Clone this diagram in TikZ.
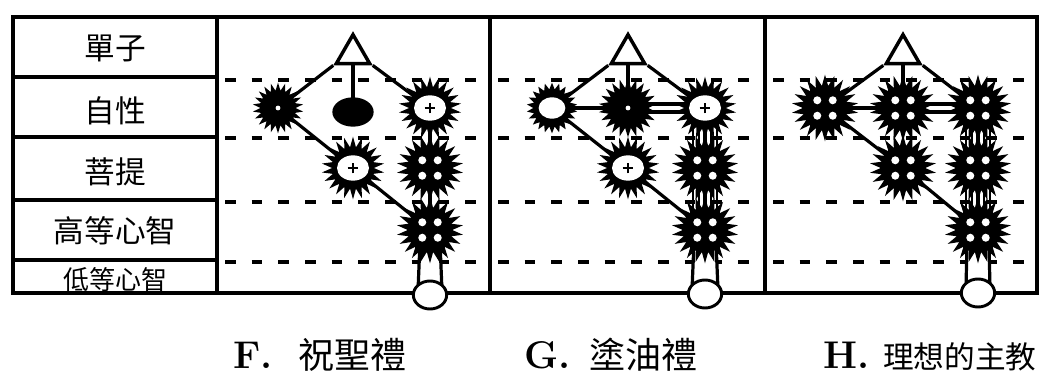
\documentclass[tikz,border=0pt]{standalone}
\usepackage{fontspec}
\newfontfamily\cjk{Noto Sans CJK TC}
\usetikzlibrary{shapes.geometric,calc}
\pgfdeclarelayer{bg}
\pgfsetlayers{bg,main}
\tikzset{
  frame/.style={line width=3pt},
  level/.style={line width=3pt, dash pattern=on 8pt off 12pt},
  link/.style={line width=2.4pt},
  strand/.style={line width=1pt},
  rowlabel/.style={font=\cjk\fontsize{23pt}{24pt}\selectfont, inner sep=0pt},
  capletter/.style={font=\fontsize{29pt}{30pt}\selectfont\bfseries, inner sep=0pt, anchor=base west},
  capname/.style={font=\cjk\fontsize{27pt}{28pt}\selectfont, inner sep=0pt, anchor=base west},
  monad/.style={regular polygon, regular polygon sides=3, draw, fill=white, line width=2.6pt,
    minimum size=29pt, inner sep=0pt},
  burst/.style={star, star points=22, star point ratio=1.5, fill=black, draw=none,
    inner sep=0pt, minimum size=#1},
  dotburst/.style={burst=#1, star point ratio=1.45, path picture={
    \fill[white] (path picture bounding box.center) circle (1.8pt);}},
  eye/.style={burst=47pt, star point ratio=1.5, path picture={
    \fill[white] (path picture bounding box.center) ellipse (12pt and 9.5pt);
    \draw[line width=1.5pt] (path picture bounding box.center) +(-4pt,0) -- +(4pt,0)
      +(0,-4pt) -- +(0,4pt);}},
  ring/.style={burst=38pt, star point ratio=1.35, path picture={
    \fill[white] (path picture bounding box.center) ellipse (10pt and 8pt);}},
  quad/.style={burst=50pt, path picture={
    \foreach \dx/\dy in {-1/-1,-1/1,1/-1,1/1}
      \fill[white] (path picture bounding box.center) +(\dx*5.8pt,\dy*5.8pt) circle (3pt);}},
  blob/.style={ellipse, fill=black, inner sep=0pt, minimum width=31pt, minimum height=22pt},
  bulb/.style={ellipse, draw, fill=white, line width=2.2pt, inner sep=0pt,
    minimum width=25pt, minimum height=21pt}
}
\begin{document}
\begin{tikzpicture}[x=0.75pt, y=-0.75pt]
\useasboundingbox (0,0) rectangle (1043,374);

% row labels
\node[rowlabel] (mon) at (115,48) {單子};
\node[rowlabel] (atm) at (115,111) {自性};
\node[rowlabel] (bud) at (115,172) {菩提};
\node[rowlabel] (him) at (115,231) {高等心智};
\node[rowlabel, font=\cjk\fontsize{19.5pt}{20pt}\selectfont] (low) at (115,280) {低等心智};

% F
\node[monad] (Fmon) at (353,54) {};
\node[dotburst=38pt] (Fatl) at (278,108) {};
\node[blob] (Fatm) at (353,112) {};
\node[eye] (Fatr) at (430,108) {};
\node[eye] (Fbum) at (353,168) {};
\node[quad] (Fbur) at (430,168) {};
\node[quad] (Fhim) at (430,230) {};
\node[bulb] (Flow) at (430,295) {};

% G
\node[monad] (Gmon) at (628,54) {};
\node[ring] (Gatl) at (552,108) {};
\node[dotburst=44pt] (Gatm) at (628,108) {};
\node[eye] (Gatr) at (705,108) {};
\node[eye] (Gbum) at (628,168) {};
\node[quad] (Gbur) at (705,168) {};
\node[quad] (Ghim) at (705,230) {};
\node[bulb] (Glow) at (705,294) {};

% H
\node[monad] (Hmon) at (903,54) {};
\node[quad] (Hatl) at (825,108) {};
\node[quad] (Hatm) at (903,108) {};
\node[quad] (Hatr) at (978,108) {};
\node[quad] (Hbum) at (903,168) {};
\node[quad] (Hbur) at (978,168) {};
\node[quad] (Hhim) at (978,230) {};
\node[bulb] (Hlow) at (978,293) {};

% captions
\node[capletter] (capF) at (233,368) {F.};
\node[capname] (nameF) at (298,368) {祝聖禮};
\node[capletter] (capG) at (524,368) {G.};
\node[capname] (nameG) at (589,368) {塗油禮};
\node[capletter] (capH) at (823,368) {H.};
\node[capname, font=\cjk\fontsize{23pt}{24pt}\selectfont] (nameH) at (883,368) {理想的主教};

\begin{pgfonlayer}{bg}
  \draw[frame] (13,17) rectangle (1037,293);
  \foreach \x in {217,490,765}
    \draw[frame] (\x,17) -- (\x,293);
  \foreach \y in {77,137,200,260}
    \draw[frame] (13,\y) -- (217,\y);
  \foreach \y in {80,138,202,262} {
    \draw[level] (225,\y) -- (483,\y);
    \draw[level] (498,\y) -- (758,\y);
    \draw[level] (773,\y) -- (1030,\y);
  }

  \draw[link] (Fmon.corner 2) -- (Fatl.center);
  \draw[link] (Fmon.south) -- (Fatm.center);
  \draw[link] (Fmon.corner 3) -- (Fatr.center);
  \draw[link] (Fatl.center) -- (Fbum.center) -- (Fhim.center);
  \draw[link] (Fatr.center) -- (Fbur.center) -- (Fhim.center);
  \draw[link, fill=white] ($(Fhim)+(-10,12)$) -- ($(Flow)+(-12,-4)$) -- ($(Flow)+(12,-4)$) -- ($(Fhim)+(10,12)$);

  \draw[link] (Gmon.corner 2) -- (Gatl.center);
  \draw[link] (Gmon.south) -- (Gatm.center);
  \draw[link] (Gmon.corner 3) -- (Gatr.center);
  \draw[link] (Gatl.center) -- (Gatm.center);
  \draw[link] ($(Gatm)+(0,-4)$) -- ($(Gatr)+(0,-4)$);
  \draw[link] ($(Gatm)+(0,4)$) -- ($(Gatr)+(0,4)$);
  \draw[link] (Gatl.center) -- (Gbum.center) -- (Ghim.center);
  \draw[link] (Gatr.center) -- (Ghim.center);
  \foreach \dx in {-12,12}
    \draw[line width=1.8pt] ($(Gatr)+(\dx,0)$) -- ($(Ghim)+(\dx,0)$);
  \foreach \dx in {-6,6}
    \draw[strand] ($(Gatr)+(\dx,0)$) -- ($(Ghim)+(\dx,0)$);
  \draw[link, fill=white] ($(Ghim)+(-11,12)$) -- ($(Glow)+(-13,-4)$) -- ($(Glow)+(13,-4)$) -- ($(Ghim)+(11,12)$);

  \draw[link] (Hmon.corner 2) -- (Hatl.center);
  \draw[link] (Hmon.south) -- (Hatm.center);
  \draw[link] (Hmon.corner 3) -- (Hatr.center);
  \draw[link] (Hatl.center) -- (Hatm.center);
  \draw[link] ($(Hatm)+(0,-4)$) -- ($(Hatr)+(0,-4)$);
  \draw[link] ($(Hatm)+(0,4)$) -- ($(Hatr)+(0,4)$);
  \draw[link] (Hatl.center) -- (Hbum.center) -- (Hhim.center);
  \draw[link] (Hatr.center) -- (Hhim.center);
  \foreach \dx in {-12,12}
    \draw[line width=1.8pt] ($(Hatr)+(\dx,0)$) -- ($(Hhim)+(\dx,0)$);
  \foreach \dx in {-6,6}
    \draw[strand] ($(Hatr)+(\dx,0)$) -- ($(Hhim)+(\dx,0)$);
  \draw[link, fill=white] ($(Hhim)+(-11,12)$) -- ($(Hlow)+(-12,-4)$) -- ($(Hlow)+(12,-4)$) -- ($(Hhim)+(11,12)$);
\end{pgfonlayer}
\end{tikzpicture}
\end{document}
